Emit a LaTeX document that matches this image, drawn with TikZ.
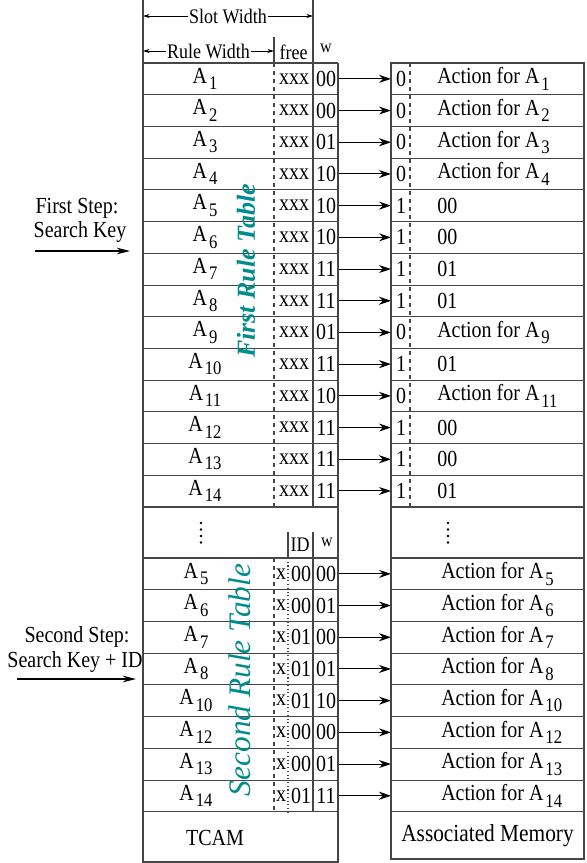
\documentclass[tikz,border=0pt]{standalone}
\usepackage{fontspec}
\setmainfont{Liberation Serif}
\usetikzlibrary{arrows.meta}
\definecolor{tabletitle}{RGB}{0,140,140}
\definecolor{linegray}{RGB}{70,70,70}
\newcommand{\An}[1]{A\kern1.5pt\raisebox{-.6ex}{\fontsize{12.5}{12}\selectfont #1}}
\newcommand{\FirstRow}[6]{% row, rule, free, w, flag, action
\pgfmathsetmacro{\RowY}{63+31.7*(#1-.5)}
\node[tcamrow] (T#1) at (240.5,\RowY) {};
\node[memrow] (M#1) at (487.5,\RowY) {};
\node[cell] (rule#1) at (205,\RowY) {#2};
\node[cell] (free#1) at (294,\RowY) {#3};
\node[cell] (w#1) at (326,\RowY) {#4};
\node[cell] (flag#1) at (401,\RowY) {#5};
\node[cell, anchor=west] (act#1) at (437,\RowY) {#6};
\draw[link] (T#1) -- (M#1);
}
\newcommand{\SecondRow}[5]{% row, rule, ID, w, action
\pgfmathsetmacro{\RowY}{558+31.7*(#1-.5)}
\node[tcamrow] (TS#1) at (240.5,\RowY) {};
\node[memrow] (MS#1) at (487.5,\RowY) {};
\node[cell] (ruleS#1) at (196,\RowY) {#2};
\node[cell] (freeS#1) at (281,\RowY) {x};
\node[cell] (id#1) at (301,\RowY) {#3};
\node[cell] (wS#1) at (326,\RowY) {#4};
\node[cell, anchor=west] (actS#1) at (441,\RowY) {#5};
\draw[link] (TS#1) -- (MS#1);
}

\begin{document}
\begin{tikzpicture}[x=0.75pt, y=-0.75pt,
cell/.style={inner sep=0, yscale=1.15, font=\fontsize{15}{18}\selectfont},
head/.style={inner sep=1pt, yscale=1.15, font=\fontsize{13.5}{16}\selectfont},
tcamrow/.style={draw=linegray, line width=.6pt, inner sep=0, outer sep=0, minimum width=146.25pt, minimum height=23.775pt},
memrow/.style={draw=linegray, line width=.6pt, inner sep=0, outer sep=0, minimum width=144.75pt, minimum height=23.775pt},
frame/.style={linegray, line width=.8pt},
thickline/.style={linegray, line width=1.3pt},
link/.style={-{Stealth[length=9pt, width=6pt]}, line width=.8pt},
input/.style={-{Stealth[length=10pt, width=5pt]}, line width=1pt},
span/.style={{Stealth[length=5pt, width=3pt]}-{Stealth[length=5pt, width=3pt]}, line width=.6pt},
ruletitle/.style={rotate=90, text=tabletitle, inner sep=0},
]
\useasboundingbox (0,0) rectangle (586,863);

%%%%%%%%%%%%%%%%%%%%%%%% FIRST RULE TABLE %%%%%%%%%%%%%%%%%%%%%%%%
\FirstRow{1}{\An{1}}{xxx}{00}{0}{Action for \An{1}}
\FirstRow{2}{\An{2}}{xxx}{00}{0}{Action for \An{2}}
\FirstRow{3}{\An{3}}{xxx}{01}{0}{Action for \An{3}}
\FirstRow{4}{\An{4}}{xxx}{10}{0}{Action for \An{4}}
\FirstRow{5}{\An{5}}{xxx}{10}{1}{00}
\FirstRow{6}{\An{6}}{xxx}{10}{1}{00}
\FirstRow{7}{\An{7}}{xxx}{11}{1}{01}
\FirstRow{8}{\An{8}}{xxx}{11}{1}{01}
\FirstRow{9}{\An{9}}{xxx}{01}{0}{Action for \An{9}}
\FirstRow{10}{\An{10}}{xxx}{11}{1}{01}
\FirstRow{11}{\An{11}}{xxx}{10}{0}{Action for \An{11}}
\FirstRow{12}{\An{12}}{xxx}{11}{1}{00}
\FirstRow{13}{\An{13}}{xxx}{11}{1}{00}
\FirstRow{14}{\An{14}}{xxx}{11}{1}{01}

%%%%%%%%%%%%%%%%%%%%%%%% SECOND RULE TABLE %%%%%%%%%%%%%%%%%%%%%%%
\SecondRow{1}{\An{5}}{00}{00}{Action for \An{5}}
\SecondRow{2}{\An{6}}{00}{01}{Action for \An{6}}
\SecondRow{3}{\An{7}}{01}{00}{Action for \An{7}}
\SecondRow{4}{\An{8}}{01}{01}{Action for \An{8}}
\SecondRow{5}{\An{10}}{01}{10}{Action for \An{10}}
\SecondRow{6}{\An{12}}{00}{00}{Action for \An{12}}
\SecondRow{7}{\An{13}}{00}{01}{Action for \An{13}}
\SecondRow{8}{\An{14}}{01}{11}{Action for \An{14}}

%%%%%%%%% FRAMES AND SEPARATORS %%%%%%%%%
\draw[frame] (143,0) -- (143,862) -- (338,862) -- (338,63);
\draw[frame] (391,63) rectangle (584,859);
\draw[thickline] (143,63) -- (338,63);
\draw[thickline] (391,63) -- (584,63);
\draw[thickline] (143,507) -- (338,507);
\draw[thickline] (391,507) -- (584,507);
\draw[thickline] (143,558) -- (338,558);
\draw[thickline] (391,558) -- (584,558);
\draw[frame] (313,0) -- (313,507);
\draw[frame] (313,532) -- (313,812);
\draw[frame] (274,37) -- (274,63);
\draw[frame] (288,532) -- (288,558);
\draw[frame, dashed] (274,63) -- (274,507);
\draw[frame, dashed] (274,558) -- (274,812);
\draw[frame, dashed] (410,63) -- (410,507);
\draw[frame, dotted] (288,558) -- (288,812);

%%%%%%%%% HEADER %%%%%%%%%
\coordinate (slotL) at (143,16);
\coordinate (slotR) at (313,16);
\coordinate (ruleL) at (143,51);
\coordinate (ruleR) at (274,51);
\draw[span] (slotL) -- (slotR) node[head, midway, fill=white] (slot) {Slot Width};
\draw[span] (ruleL) -- (ruleR) node[head, midway, fill=white] (rulewidth) {Rule Width};
\node[head] (free) at (293.5,52) {free};
\node[head, font=\fontsize{12}{14}\selectfont] (w) at (326,48) {w};
\node[head] (id) at (300,545) {ID};
\node[head, font=\fontsize{12}{14}\selectfont] (wS) at (327,542) {w};

%%%%%%%%% DOTS %%%%%%%%%
\foreach \dy in {523,529.5,536,542.5} {
  \fill (201,\dy) circle (1.3);
  \fill (448,\dy) circle (1.3);
}

%%%%%%%%% BOTTOM LABELS %%%%%%%%%
\node[cell] (tcam) at (215,838) {TCAM};
\node[cell, font=\fontsize{16}{18}\selectfont] (memory) at (487.5,836) {Associated Memory};

%%%%%%%%% TABLE TITLES %%%%%%%%%
\node[ruletitle, font=\fontsize{19.5}{22}\selectfont\bfseries\itshape] (first) at (246,271) {First Rule Table};
\node[ruletitle, font=\fontsize{23.5}{26}\selectfont\itshape] (second) at (240,680) {Second Rule Table};

%%%%%%%%% SEARCH STEPS %%%%%%%%%
\node[cell] (step1) at (77,208) {First Step:};
\node[cell] (key1) at (80,232) {Search Key};
\coordinate (in1s) at (35,251);
\coordinate (in1e) at (130,251);
\draw[input] (in1s) -- (in1e);
\node[cell] (step2) at (77,637) {Second Step:};
\node[cell] (key2) at (75,662) {Search Key + ID};
\coordinate (in2s) at (17,679);
\coordinate (in2e) at (136,679);
\draw[input] (in2s) -- (in2e);
\end{tikzpicture}
\end{document}
